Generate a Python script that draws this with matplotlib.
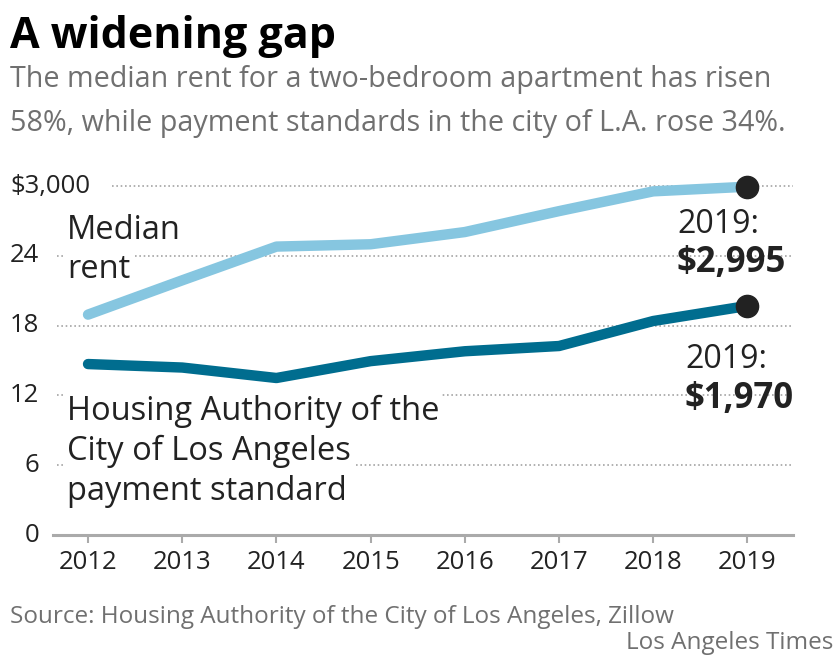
import matplotlib.pyplot as plt
import matplotlib.transforms as mtransforms

years = [2012, 2013, 2014, 2015, 2016, 2017, 2018, 2019]
median_rent = [1895, 2190, 2480, 2500, 2605, 2785, 2955, 2995]
payment_standard = [1470, 1440, 1350, 1495, 1580, 1625, 1840, 1970]

y_ticks = [0, 600, 1200, 1800, 2400, 3000]
y_tick_labels = ['0', '6', '12', '18', '24', '$3,000']

LIGHT = '#86c6e0'
DARK = '#006d8f'
INK = '#222222'
GREY = '#707070'
AXIS = '#aaaaaa'

plt.rcParams['font.family'] = ['Open Sans', 'DejaVu Sans']

W, H = 840, 659
fig = plt.figure(figsize=(W / 100, H / 100), dpi=100)


def fx(x):
    return x / W


def fy(y):
    return 1 - y / H


# axes box in pixels: left 53, right 793, bottom 535, top 171
ax = fig.add_axes([fx(53), fy(535), (793 - 53) / W, (535 - 171) / H])
ax.set_xlim(2011.628, 2019.484)
ax.set_ylim(0, 3130)

# dotted gridlines
for t in y_ticks[1:]:
    start = 0.08 if t == 3000 else 0.006
    ax.axhline(t, xmin=start, xmax=1, color=AXIS, lw=1.3,
               linestyle=(0, (0.9, 1.5)), zorder=1)

ax.plot(years, median_rent, color=LIGHT, lw=7.5, solid_capstyle='round',
        solid_joinstyle='round', zorder=3)
ax.plot(years, payment_standard, color=DARK, lw=7.5, solid_capstyle='round',
        solid_joinstyle='round', zorder=3)
ax.plot([years[-1]], [median_rent[-1]], 'o', color=INK, ms=16, zorder=4)
ax.plot([years[-1]], [payment_standard[-1]], 'o', color=INK, ms=16, zorder=4)

for s in ['top', 'right', 'left']:
    ax.spines[s].set_visible(False)
ax.spines['bottom'].set_color(AXIS)
ax.spines['bottom'].set_linewidth(2.2)

ax.set_xticks(years)
ax.set_xticklabels([str(y) for y in years], fontsize=18.5, color=INK)
ax.tick_params(axis='x', length=6, width=1.5, color=AXIS, pad=5)
ax.set_yticks([])

# y labels: numbers right aligned, the top one left aligned at the edge
trans = mtransforms.blended_transform_factory(fig.transFigure, ax.transData)
for t, lab in zip(y_ticks, y_tick_labels):
    if lab.startswith('$'):
        ax.text(fx(10), t, lab, transform=trans, ha='left', va='center',
                fontsize=18.5, color=INK)
    else:
        ax.text(fx(39), t, lab, transform=trans, ha='right', va='center',
                fontsize=18.5, color=INK)

# title and subtitle
fig.text(fx(10), fy(48), 'A widening gap', fontsize=31, fontweight='bold',
         color='black', va='baseline')
fig.text(fx(10), fy(87), 'The median rent for a two-bedroom apartment has risen',
         fontsize=20.7, color=GREY, va='baseline')
fig.text(fx(10), fy(131), '58%, while payment standards in the city of L.A. rose 34%.',
         fontsize=20.7, color=GREY, va='baseline')

# series labels
box = dict(facecolor='white', edgecolor='none', pad=2)
for i, line in enumerate(['Median', 'rent']):
    fig.text(fx(67), fy(239 + 39 * i), line, fontsize=23.5, color=INK,
             va='baseline', bbox=box, zorder=5)
for i, line in enumerate(['Housing Authority of the', 'City of Los Angeles',
                          'payment standard']):
    fig.text(fx(67), fy(420 + 40 * i), line, fontsize=23.5, color=INK,
             va='baseline', bbox=box, zorder=5)

# end-point annotations
fig.text(fx(677), fy(233), '2019:', fontsize=23, color=INK, va='baseline')
fig.text(fx(677), fy(272), '$%s' % format(median_rent[-1], ','), fontsize=25,
         fontweight='bold', color=INK, va='baseline')
fig.text(fx(685), fy(368), '2019:', fontsize=23, color=INK, va='baseline')
fig.text(fx(685), fy(408), '$%s' % format(payment_standard[-1], ','), fontsize=25,
         fontweight='bold', color=INK, va='baseline')

# footer
fig.text(fx(10), fy(623), 'Source: Housing Authority of the City of Los Angeles, Zillow',
         fontsize=17.5, color=GREY, va='baseline')
fig.text(fx(833), fy(649), 'Los Angeles Times', fontsize=17.5, color=GREY,
         ha='right', va='baseline')

fig.savefig('out.png', dpi=100)
